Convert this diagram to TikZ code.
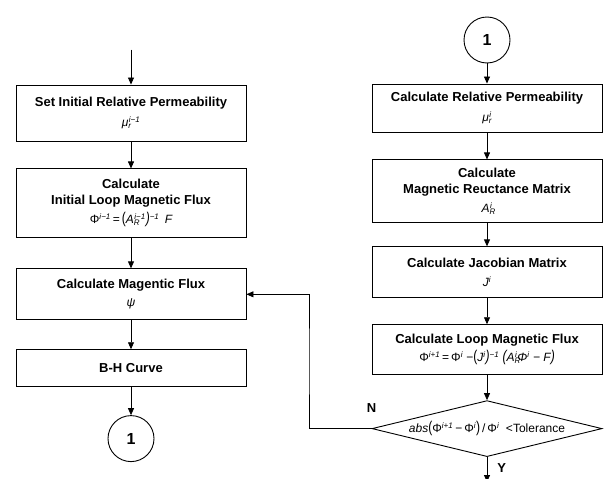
\documentclass[tikz,border=0pt]{standalone}
\usepackage{fontspec}
\setmainfont{Liberation Sans}
\usepackage{tikz}
\usetikzlibrary{shapes, arrows.meta, positioning, calc}
\newcommand{\scriptpair}[2]{\textsubscript{\rlap{\itshape #1}}\textsuperscript{\itshape #2}}
\newcommand{\tallparen}[1]{\scalebox{1}[1.3]{(}#1\scalebox{1}[1.3]{)}}

\begin{document}
\begin{tikzpicture}[x=1pt, y=1pt, node distance=28pt,
                    font=\fontsize{13}{16}\selectfont,
                    step_box/.style={rectangle, draw, line width=0.9pt, align=center, minimum width=230pt, inner sep=2pt, font=\fontsize{13}{16}\selectfont\bfseries},
                    decision/.style={diamond, draw, line width=0.9pt, aspect=4.1, inner sep=0pt, minimum width=230pt, minimum height=56pt, font=\fontsize{12}{14}\selectfont},
                    connector/.style={circle, draw, line width=0.9pt, minimum size=46pt, inner sep=0pt, font=\fontsize{16}{18}\selectfont\bfseries},
                    flow/.style={-{Triangle[length=7pt, width=6pt]}, line width=0.8pt},
                    branch_label/.style={inner sep=0pt, font=\fontsize{13}{16}\selectfont\bfseries},
                    ]
    \def\formula{\fontsize{12}{14}\selectfont\mdseries}

    \useasboundingbox (0,0) rectangle (608,-479);

    % Left column
    \node[step_box, minimum height=56pt] (set_perm) at (131,-113) {Set Initial Relative Permeability\\[4pt] {\formula\itshape μ\scriptpair{r}{i−1}}};
    \node[step_box, minimum height=69pt, below=27pt of set_perm] (init_flux) {Calculate\\Initial Loop Magnetic Flux\\[3pt] {\formula Φ\textsuperscript{\itshape i−1}\,=\,\tallparen{\itshape A\scriptpair{R}{i−1}}\textsuperscript{−1}\, \itshape F}};
    \node[step_box, minimum height=51pt, below=30pt of init_flux] (mag_flux) {Calculate Magentic Flux\\[2pt] {\formula\itshape ψ}};
    \node[step_box, minimum height=37pt, below=29pt of mag_flux] (bh_curve) {B-H Curve};
    \node[connector, below=28pt of bh_curve] (goto_one) {1};
    \coordinate[above=35pt of set_perm] (start_in);

    % Right column
    \node[connector] (from_one) at (487,-40) {1};
    \node[step_box, minimum height=48pt] (rel_perm) at (487,-108) {Calculate Relative Permeability\\[4pt] {\formula\itshape μ\scriptpair{r}{i}}};
    \node[step_box, minimum height=63pt, below=27pt of rel_perm] (reluctance) {Calculate\\Magnetic Reuctance Matrix\\[3pt] {\formula\itshape A\scriptpair{R}{i}}};
    \node[step_box, minimum height=51pt, below=23pt of reluctance] (jacobian) {Calculate Jacobian Matrix\\[3pt] {\formula\itshape J\textsuperscript{i}}};
    \node[step_box, minimum height=50pt, below=26pt of jacobian] (loop_flux) {Calculate Loop Magnetic Flux\\[2pt] {\formula Φ\textsuperscript{\itshape i+1}\,=\,Φ\textsuperscript{\itshape i}\ −\tallparen{\itshape J\textsuperscript{i}}\textsuperscript{−1}\ \tallparen{{\itshape A\scriptpair{R}{i}}Φ\textsuperscript{\itshape i}\ −\ {\itshape F}}}};
    \node[decision, below=25pt of loop_flux] (tolerance) {{\itshape abs}\tallparen{Φ\textsuperscript{\itshape i+1}\,−\,Φ\textsuperscript{\itshape i}}\,/\,Φ\textsuperscript{\itshape i}\ \ {<}Tolerance};
    \coordinate[below=25pt of tolerance] (done);

    % Left flow
    \draw[flow] (start_in) -- (set_perm);
    \draw[flow] (set_perm) -- (init_flux);
    \draw[flow] (init_flux) -- (mag_flux);
    \draw[flow] (mag_flux) -- (bh_curve);
    \draw[flow] (bh_curve) -- (goto_one);

    % Right flow
    \draw[flow] (from_one) -- (rel_perm);
    \draw[flow] (rel_perm) -- (reluctance);
    \draw[flow] (reluctance) -- (jacobian);
    \draw[flow] (jacobian) -- (loop_flux);
    \draw[flow] (loop_flux) -- (tolerance);
    \draw[flow] (tolerance) -- node[branch_label, right=10pt, pos=0.42] (yes_label) {Y} (done);

    % Loop back
    \draw[flow] (tolerance.west) -| ($(mag_flux.east)!0.5!(tolerance.west)$) |- (mag_flux.east);
    \node[branch_label, above=16pt of tolerance.west] (no_label) {N};

\end{tikzpicture}
\end{document}
